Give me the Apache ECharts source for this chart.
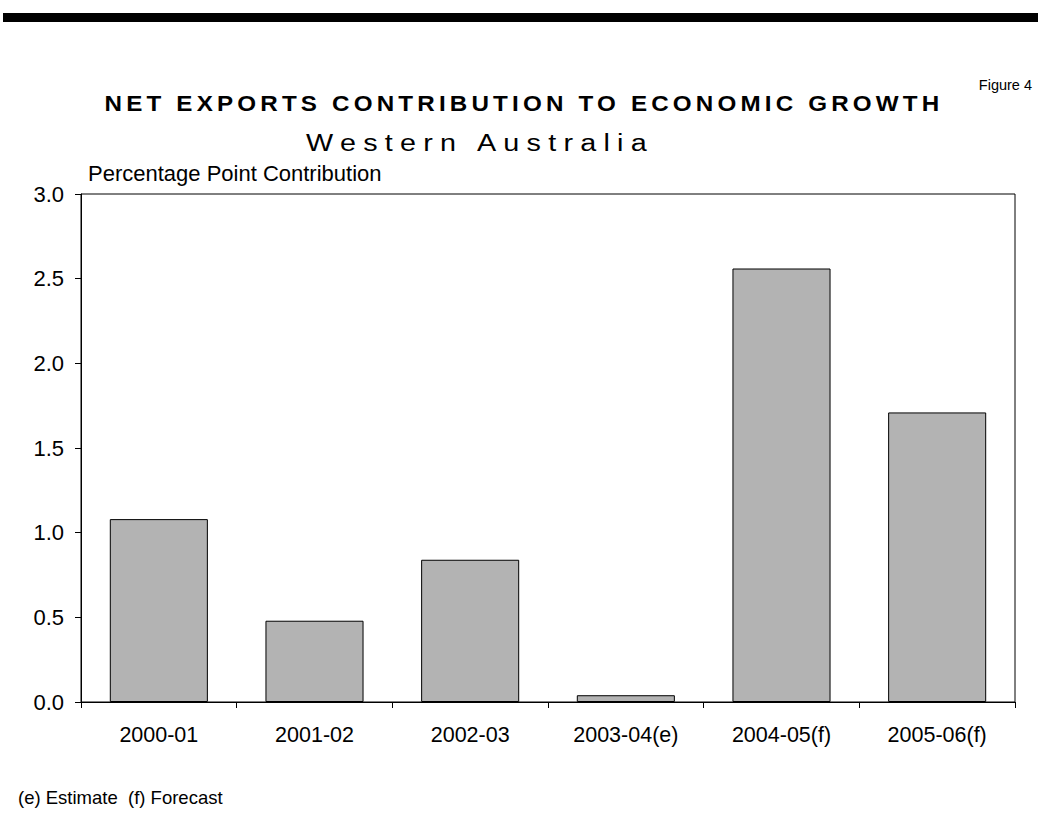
<!DOCTYPE html>
<html>
<head>
<meta charset="utf-8">
<script src="https://cdn.jsdelivr.net/npm/echarts@6/dist/echarts.min.js"></script>
<style>
  html, body { margin: 0; padding: 0; background: #ffffff; }
  #chart { width: 1038px; height: 821px; }
</style>
</head>
<body>
<div id="chart"></div>
<script>
// Financial years and net exports contribution (percentage points)
const years = ['2000-01', '2001-02', '2002-03', '2003-04(e)', '2004-05(f)', '2005-06(f)'];
const contribution = [1.08, 0.48, 0.84, 0.04, 2.56, 1.71];
const yTicks = [0, 0.5, 1.0, 1.5, 2.0, 2.5, 3.0];

const FONT = '"Liberation Sans", Arial, sans-serif';
const chart = echarts.init(document.getElementById('chart'), null, { renderer: 'svg' });

chart.setOption({
  animation: false,
  backgroundColor: '#ffffff',
  grid: { left: 81, right: 23, top: 194, bottom: 119, show: true, borderColor: '#000', borderWidth: 1, backgroundColor: 'transparent' },
  graphic: [
    { type: 'rect', shape: { x: 3, y: 13, width: 1035, height: 9 }, style: { fill: '#000' } },
    { type: 'text', right: 6, top: 77, style: { text: 'Figure 4', font: '14.5px ' + FONT, fill: '#000' } },
    { type: 'text', x: 524, y: 103, scaleX: 1.1, style: { text: 'NET EXPORTS CONTRIBUTION TO ECONOMIC GROWTH', x: 0, y: 0, align: 'center', verticalAlign: 'middle', font: 'bold 22px ' + FONT, fill: '#000' } },
    { type: 'text', x: 480, y: 143, scaleX: 1.25, style: { text: 'Western Australia', x: 0, y: 0, align: 'center', verticalAlign: 'middle', font: '23px ' + FONT, fill: '#000' } },
    { type: 'text', style: { text: 'Percentage Point Contribution', x: 88, y: 173, verticalAlign: 'middle', font: '22px ' + FONT, fill: '#000' } },
    { type: 'text', style: { text: '(e) Estimate  (f) Forecast', x: 18, y: 797, verticalAlign: 'middle', font: '18.5px ' + FONT, fill: '#000' } }
  ],
  xAxis: {
    type: 'category',
    data: years,
    axisLine: { lineStyle: { color: '#000', width: 1 } },
    axisTick: { show: true, length: 6, alignWithLabel: false, lineStyle: { color: '#000' } },
    axisLabel: { color: '#000', fontFamily: FONT, fontSize: 21.5, margin: 22 },
    splitLine: { show: false }
  },
  yAxis: {
    type: 'value',
    min: yTicks[0],
    max: yTicks[yTicks.length - 1],
    interval: 0.5,
    axisLine: { show: true, lineStyle: { color: '#000', width: 1 } },
    axisTick: { show: true, length: 6, lineStyle: { color: '#000' } },
    axisLabel: { color: '#000', fontFamily: FONT, fontSize: 22, margin: 17, formatter: v => v.toFixed(1) },
    splitLine: { show: false }
  },
  series: [{
    type: 'bar',
    data: contribution,
    barCategoryGap: '37%',
    itemStyle: { color: '#b3b3b3', borderColor: '#000', borderWidth: 1 }
  }]
});

// Spread out the heading letters
document.querySelectorAll('#chart text').forEach(t => {
  if (t.textContent === 'NET EXPORTS CONTRIBUTION TO ECONOMIC GROWTH') t.setAttribute('letter-spacing', '3.8px');
  if (t.textContent === 'Western Australia') t.setAttribute('letter-spacing', '5.8px');
});
</script>
</body>
</html>
